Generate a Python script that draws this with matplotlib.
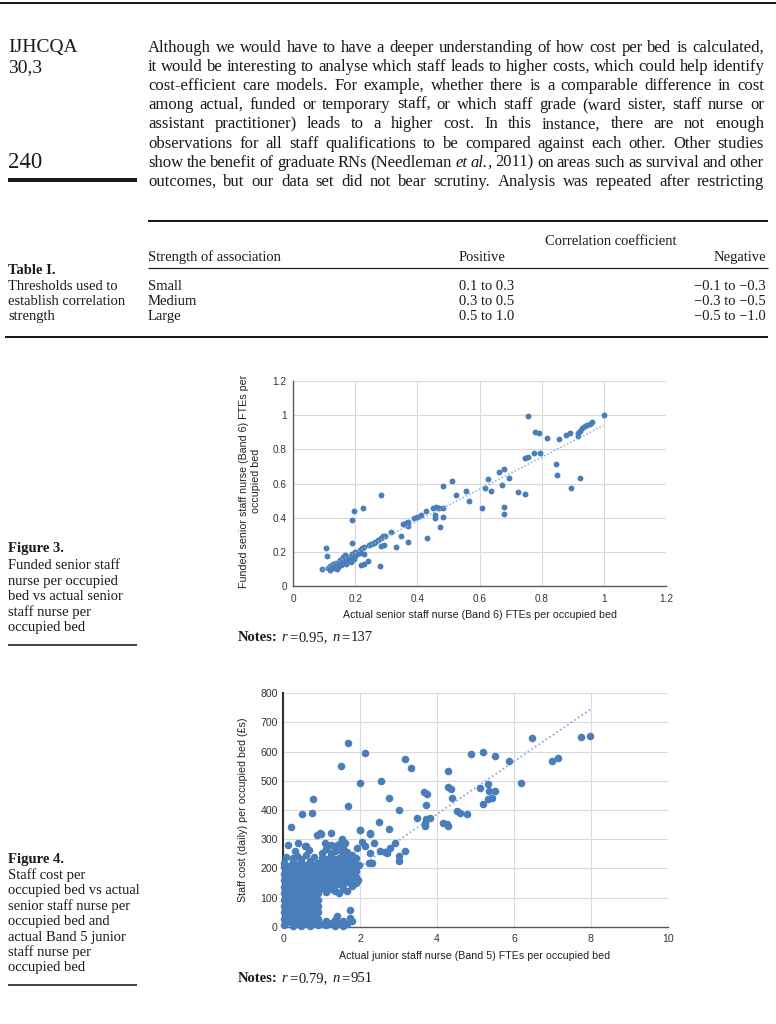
import numpy as np
import matplotlib
matplotlib.use("Agg")
import matplotlib.pyplot as plt
from matplotlib.lines import Line2D

W, H = 776, 1024
SERIF = "Liberation Serif"
SANS = "Liberation Sans"
INK = "#1a1a1a"
BLUE = "#4a7ebb"
TREND_COL = "#8eaed8"
GRID = "#d9d9d9"
AXIS = "#595959"

# ── page text ────────────────────────────────────────────────────────────────
BODY_LINES = [
    "Although we would have to have a deeper understanding of how cost per bed is calculated,",
    "it would be interesting to analyse which staff leads to higher costs, which could help identify",
    "cost-efficient care models. For example, whether there is a comparable difference in cost",
    "among actual, funded or temporary staff, or which staff grade (ward sister, staff nurse or",
    "assistant practitioner) leads to a higher cost. In this instance, there are not enough",
    "observations for all staff qualifications to be compared against each other. Other studies",
    "show the benefit of graduate RNs (Needleman *et* *al.*, 2011) on areas such as survival and other",
    "outcomes, but our data set did not bear scrutiny. Analysis was repeated after restricting",
]

# ── Table I ──────────────────────────────────────────────────────────────────
STRENGTH = ["Small", "Medium", "Large"]
POSITIVE = ["0.1 to 0.3", "0.3 to 0.5", "0.5 to 1.0"]
NEGATIVE = ["\u22120.1 to \u22120.3", "\u22120.3 to \u22120.5", "\u22120.5 to \u22121.0"]

# ── Figure 3: actual vs funded Band 6 FTEs per occupied bed ─────────────────
SENIOR_ACTUAL = [
    0.094, 0.107, 0.110, 0.113, 0.118, 0.118, 0.125, 0.127, 0.129, 0.134, 0.139, 0.140,
    0.145, 0.148, 0.152, 0.155, 0.158, 0.161, 0.166, 0.166, 0.171, 0.171, 0.175, 0.177,
    0.182, 0.184, 0.188, 0.191, 0.195, 0.198, 0.201, 0.205, 0.209, 0.214, 0.215, 0.223,
    0.230, 0.191, 0.195, 0.225, 0.191, 0.220, 0.230, 0.241, 0.230, 0.246, 0.250, 0.260,
    0.265, 0.273, 0.284, 0.290, 0.295, 0.282, 0.292, 0.282, 0.281, 0.316, 0.332, 0.348,
    0.370, 0.354, 0.362, 0.371, 0.370, 0.389, 0.399, 0.413, 0.429, 0.431, 0.450, 0.459,
    0.469, 0.484, 0.458, 0.458, 0.482, 0.472, 0.482, 0.512, 0.525, 0.555, 0.566, 0.608,
    0.680, 0.680, 0.664, 0.680, 0.696, 0.672, 0.626, 0.619, 0.636, 0.724, 0.746, 0.745,
    0.755, 0.774, 0.795, 0.847, 0.849, 0.895, 0.922, 0.755, 0.999, 0.777, 0.793, 0.817,
    0.855, 0.877, 0.892, 0.916, 0.916, 0.922, 0.930, 0.938, 0.946, 0.954, 0.962,
]
SENIOR_FUNDED = [
    0.099, 0.220, 0.175, 0.103, 0.119, 0.094, 0.115, 0.106, 0.127, 0.107, 0.136, 0.100,
    0.113, 0.130, 0.152, 0.123, 0.145, 0.168, 0.142, 0.181, 0.177, 0.129, 0.165, 0.156,
    0.150, 0.172, 0.138, 0.187, 0.160, 0.175, 0.200, 0.185, 0.191, 0.210, 0.195, 0.220,
    0.230, 0.386, 0.440, 0.454, 0.250, 0.123, 0.127, 0.146, 0.187, 0.238, 0.245, 0.250,
    0.260, 0.269, 0.283, 0.290, 0.292, 0.236, 0.238, 0.532, 0.119, 0.318, 0.230, 0.294,
    0.259, 0.361, 0.370, 0.372, 0.351, 0.396, 0.402, 0.413, 0.437, 0.283, 0.454, 0.460,
    0.454, 0.454, 0.415, 0.400, 0.402, 0.347, 0.585, 0.616, 0.530, 0.557, 0.497, 0.454,
    0.460, 0.419, 0.665, 0.684, 0.635, 0.591, 0.628, 0.571, 0.556, 0.550, 0.540, 0.747,
    0.756, 0.776, 0.780, 0.717, 0.649, 0.575, 0.630, 0.996, 1.002, 0.903, 0.897, 0.864,
    0.860, 0.883, 0.897, 0.877, 0.893, 0.908, 0.922, 0.936, 0.945, 0.951, 0.959,
]
TREND3 = (0.935, 0.006)            # slope, intercept of the dotted trend line
FIG3_TICKS = [0, 0.2, 0.4, 0.6, 0.8, 1.0, 1.2]
FIG3_LABELS = ["0", "0.2", "0.4", "0.6", "0.8", "1", "1.2"]

# ── Figure 4: Band 5 FTEs vs staff cost per occupied bed ─────────────────────
# scattered points
JUNIOR_X = [
    7.98, 7.74, 6.46, 6.98, 7.14, 5.86, 6.18, 5.20, 4.87, 5.52, 4.29, 5.13, 5.33, 5.36,
    5.52, 4.29, 4.36, 4.38, 5.20, 5.33, 5.42, 4.51, 4.60, 4.77, 4.16, 4.25, 4.29, 3.67,
    3.73, 3.70, 3.49, 3.82, 3.71, 3.69, 3.69, 3.17, 3.32, 2.13, 1.69, 1.50, 1.99, 2.53,
    2.74, 1.69, 3.00, 2.48, 2.74, 1.99, 2.25, 3.17, 3.00, 3.00, 2.37, 2.91, 2.25, 2.30,
    2.23, 2.52, 2.65, 2.78, 2.69, 0.21, 0.48, 0.74, 0.78, 0.88, 0.97, 0.12, 0.38, 0.56,
    0.59, 1.91, 1.86, 1.95, 1.25, 0.95, 1.60, 1.99, 2.25, 1.47, 1.73, 2.05, 2.12,
    0.30, 0.66, 1.08, 1.52, 1.96, 0.06, 1.40, 1.74,
]
JUNIOR_COST = [
    654, 649, 646, 568, 577, 568, 491, 598, 591, 586, 535, 477, 488, 466,
    466, 480, 471, 440, 421, 437, 440, 397, 389, 385, 354, 351, 345, 463,
    455, 416, 374, 371, 368, 346, 354, 574, 543, 594, 631, 551, 491, 500,
    440, 414, 400, 358, 335, 330, 318, 259, 243, 225, 288, 288, 251, 217,
    217, 261, 257, 269, 251, 343, 386, 391, 437, 313, 318, 280, 286, 277,
    278, 269, 189, 160, 320, 320, 286, 331, 320, 269, 57, 290, 275,
    258, 262, 288, 300, 212, 240, 38, 30,
]
# dense cluster near the origin, read column by column
CLUSTER_X = [0.03, 0.14, 0.25, 0.36, 0.47, 0.58, 0.69, 0.80, 0.90, 1.01,
             1.12, 1.23, 1.34, 1.45, 1.56, 1.67, 1.78, 1.89]
CLUSTER_COST = [
    [5, 27, 49, 71, 93, 115, 137, 159, 181, 203, 219],
    [15, 37, 59, 81, 103, 125, 147, 169, 191, 208],
    [4, 26, 48, 70, 92, 114, 136, 158, 180, 202, 224, 236],
    [14, 36, 58, 80, 102, 124, 146, 168, 190, 212, 241],
    [3, 25, 47, 69, 91, 113, 135, 157, 179, 201, 223, 231],
    [14, 36, 58, 80, 102, 124, 146, 168, 190, 212, 245],
    [4, 26, 48, 70, 92, 114, 136, 158, 180, 202, 226],
    [14, 36, 58, 80, 102, 124, 146, 168, 190, 212, 238],
    [5, 27, 49, 71, 93, 115, 137, 159, 181, 203, 217],
    [9, 131, 146, 168, 190, 212, 236, 252],
    [6, 20, 118, 144, 166, 188, 210, 232, 266],
    [14, 128, 150, 172, 194, 216, 238, 252, 281],
    [4, 22, 124, 144, 166, 188, 210, 232, 258, 276],
    [12, 117, 148, 170, 192, 214, 236, 262, 284],
    [4, 20, 130, 146, 168, 190, 212, 234, 252, 270],
    [10, 122, 152, 174, 196, 218, 240, 257],
    [18, 141, 158, 180, 202, 224, 246],
    [150, 170, 192, 210, 236],
]
TREND4 = (90.0, 26.0)
FIG4_XTICKS = [0, 2, 4, 6, 8, 10]
FIG4_YTICKS = [0, 100, 200, 300, 400, 500, 600, 700, 800]

fig = plt.figure(figsize=(W / 100, H / 100), dpi=100)
fig.patch.set_facecolor("white")
renderer = fig.canvas.get_renderer()


def fy(y):
    return 1 - y / H


def ftext(x, y, s, size, **kw):
    kw.setdefault("family", SERIF)
    kw.setdefault("color", INK)
    kw.setdefault("va", "baseline")
    return fig.text(x / W, fy(y), s, fontsize=size, **kw)


def hrule(x0, x1, y, lw_px):
    fig.add_artist(Line2D([x0 / W, x1 / W], [fy(y), fy(y)], transform=fig.transFigure,
                          color=INK, lw=lw_px * 0.72, solid_capstyle="butt"))


def seg_width(txt, size, weight="normal", style="normal"):
    t = fig.text(0, 0, txt, fontsize=size, family=SERIF, weight=weight, style=style)
    w = t.get_window_extent(renderer).width
    t.remove()
    return w


def parse_word(word):
    segs = []
    for i, p in enumerate(word.split("*")):
        if p:
            segs.append((p, "italic" if i % 2 else "normal"))
    return segs


def draw_runs(x, y, runs, size):
    # runs: (text, weight, style, gap after in px)
    for txt, weight, style, gap in runs:
        ftext(x, y, txt, size, weight=weight, style=style)
        x += seg_width(txt, size, weight, style) + gap


# ── header ───────────────────────────────────────────────────────────────────
hrule(0, W, 3, 2)
ftext(8, 52, "IJHCQA", 14)
ftext(8, 72, "30,3", 14)
ftext(8, 168, "240", 16.5)
hrule(8, 137, 180, 4)

# justified body paragraph
x_left, x_right = 148, 764
target = x_right - x_left
words_per_line = [[parse_word(w) for w in line.split()] for line in BODY_LINES]
base = 12.0
limits = []
for words in words_per_line:
    total = sum(seg_width(t, base, style=s) for w in words for t, s in w)
    limits.append(target / (total / base + 0.2 * 100 / 72 * (len(words) - 1)))
body_size = min(base, min(limits))
for i, words in enumerate(words_per_line):
    y = 51.5 + 19.2 * i
    widths = [[seg_width(t, body_size, style=s) for t, s in w] for w in words]
    total = sum(sum(ws) for ws in widths)
    gap = (target - total) / (len(words) - 1)
    x = x_left
    for w, ws in zip(words, widths):
        for (t, s), sw in zip(w, ws):
            ftext(x, y, t, body_size, style=s)
            x += sw
        x += gap

# ── Table I ──────────────────────────────────────────────────────────────────
TS = 10.5
hrule(148, 768, 221, 2)
ftext(611, 245, "Correlation coefficient", TS, ha="center")
ftext(148, 261, "Strength of association", TS)
ftext(459, 261, "Positive", TS)
ftext(766, 261, "Negative", TS, ha="right")
hrule(148, 768, 268, 1.2)
ftext(8, 274, "Table I.", TS, weight="bold")
for i, cap in enumerate(["Thresholds used to", "establish correlation", "strength"]):
    ftext(8, 290 + 15 * i, cap, TS)
for i in range(len(STRENGTH)):
    y = 290 + 15 * i
    ftext(148, y, STRENGTH[i], TS)
    ftext(459, y, POSITIVE[i], TS)
    ftext(766, y, NEGATIVE[i], TS, ha="right")
hrule(5, 768, 337, 2)

# ── Figure 3 ─────────────────────────────────────────────────────────────────
ftext(8, 552, "Figure 3.", TS, weight="bold")
for i, cap in enumerate(["Funded senior staff", "nurse per occupied", "bed vs actual senior",
                         "staff nurse per", "occupied bed"]):
    ftext(8, 569 + 15.6 * i, cap, TS)
hrule(8, 137, 645, 1.6)


def style_axes(ax, xpad, ypad, size):
    ax.set_axisbelow(True)
    ax.grid(True, color=GRID, lw=0.8)
    for side in ("top", "right"):
        ax.spines[side].set_visible(False)
    for side in ("left", "bottom"):
        ax.spines[side].set_color(AXIS)
        ax.spines[side].set_linewidth(1.0)
    ax.tick_params(length=0, labelsize=size, colors="#333333")
    ax.tick_params(axis="x", pad=xpad)
    ax.tick_params(axis="y", pad=ypad)
    for lab in ax.get_xticklabels() + ax.get_yticklabels():
        lab.set_family(SANS)


ax3 = fig.add_axes([293 / W, fy(586), 373 / W, 205 / H])
ax3.scatter(SENIOR_ACTUAL, SENIOR_FUNDED, s=18, color=BLUE, lw=0, zorder=3, clip_on=False)
xs = np.array([min(SENIOR_ACTUAL), max(SENIOR_ACTUAL)])
ax3.plot(xs, TREND3[0] * xs + TREND3[1], color=TREND_COL, lw=1.1,
         ls=(0, (1, 1.4)), zorder=4)
ax3.set_xlim(0, 1.2)
ax3.set_ylim(0, 1.2)
ax3.set_xticks(FIG3_TICKS, FIG3_LABELS)
ax3.set_yticks(FIG3_TICKS, FIG3_LABELS)
style_axes(ax3, 5.5, 4.5, 7.2)
fig.text(250 / W, fy(481), "Funded senior staff nurse (Band 6) FTEs per\noccupied bed",
         rotation=90, ha="center", va="center", multialignment="center",
         fontsize=7.7, family=SANS, color="#222222", linespacing=1.2)
fig.text(480 / W, fy(615), "Actual senior staff nurse (Band 6) FTEs per occupied bed",
         ha="center", va="center", fontsize=7.7, family=SANS, color="#222222")
draw_runs(238, 641, [("Notes:", "bold", "normal", 4), ("r", "normal", "italic", 1.5),
                     ("=", "normal", "normal", 1.5), ("0.95,", "normal", "normal", 4),
                     ("n", "normal", "italic", 1.5), ("=", "normal", "normal", 1.5),
                     ("137", "normal", "normal", 0)], TS)

# ── Figure 4 ─────────────────────────────────────────────────────────────────
ftext(8, 863, "Figure 4.", TS, weight="bold")
for i, cap in enumerate(["Staff cost per", "occupied bed vs actual", "senior staff nurse per",
                         "occupied bed and", "actual Band 5 junior", "staff nurse per",
                         "occupied bed"]):
    ftext(8, 879 + 15.4 * i, cap, TS)
hrule(8, 137, 985, 1.6)

ax4 = fig.add_axes([283.3 / W, fy(926.7), 384.4 / W, 233.4 / H])
clu_x = [cx for cx, ys in zip(CLUSTER_X, CLUSTER_COST) for _ in ys]
clu_y = [y for ys in CLUSTER_COST for y in ys]
all_x = JUNIOR_X + clu_x
all_y = JUNIOR_COST + clu_y
xs = np.array([min(all_x), max(all_x)])
ax4.plot(xs, TREND4[0] * xs + TREND4[1], color=TREND_COL, lw=1.3,
         ls=(0, (1, 1.4)), zorder=2)
ax4.scatter(all_x, all_y, s=30, color=BLUE, lw=0, zorder=3, clip_on=False)
ax4.set_xlim(0, 10)
ax4.set_ylim(0, 800)
ax4.set_xticks(FIG4_XTICKS)
ax4.set_yticks(FIG4_YTICKS)
style_axes(ax4, 5, 4, 7.6)
ax4.spines["left"].set_color("#333333")
ax4.spines["left"].set_linewidth(1.5)
fig.text(243 / W, fy(810), "Staff cost (daily) per occupied bed (\u00a3s)",
         rotation=90, ha="center", va="center", fontsize=7.7, family=SANS, color="#222222")
fig.text(475 / W, fy(956), "Actual junior staff nurse (Band 5) FTEs per occupied bed",
         ha="center", va="center", fontsize=7.7, family=SANS, color="#222222")
draw_runs(238, 982, [("Notes:", "bold", "normal", 4), ("r", "normal", "italic", 1.5),
                     ("=", "normal", "normal", 1.5), ("0.79,", "normal", "normal", 4),
                     ("n", "normal", "italic", 1.5), ("=", "normal", "normal", 1.5),
                     ("951", "normal", "normal", 0)], TS)

fig.savefig("out.png", dpi=100, facecolor="white")
